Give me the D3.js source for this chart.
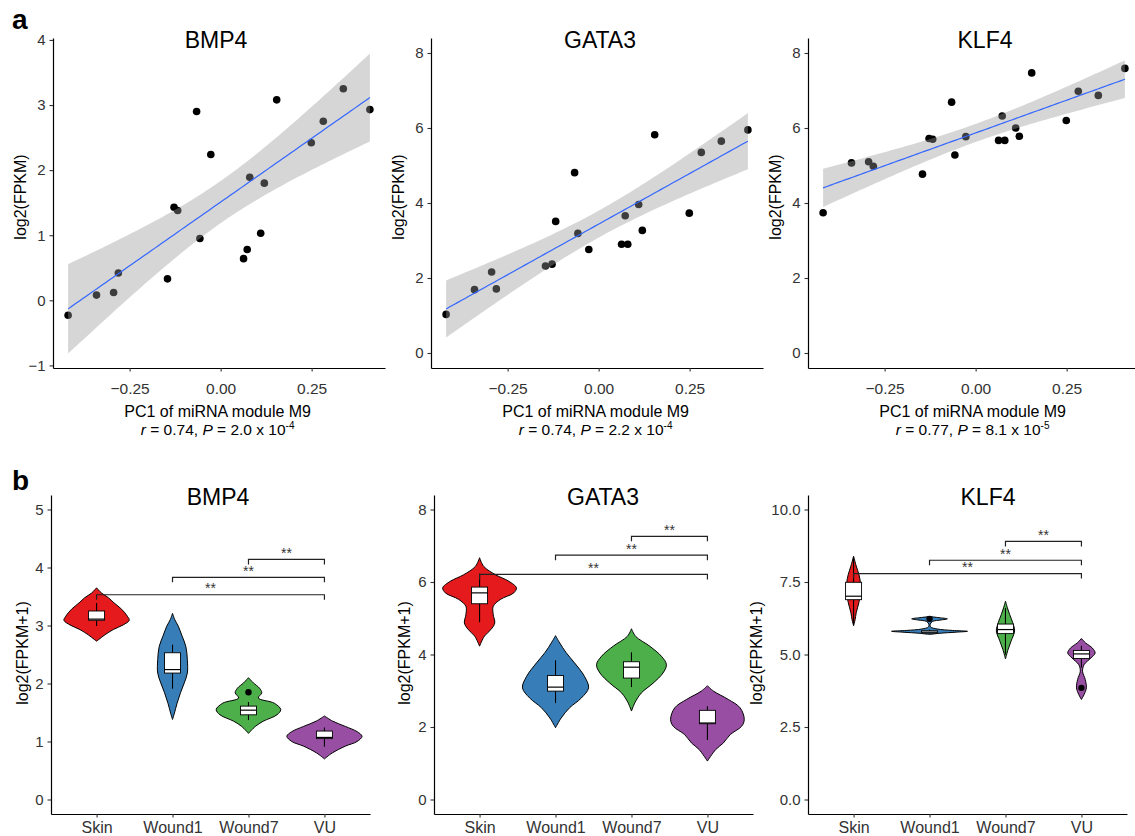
<!DOCTYPE html>
<html>
<head>
<meta charset="utf-8">
<script src="https://cdn.jsdelivr.net/npm/d3@7"></script>
<style>
  body { margin: 0; background: #fff; }
  svg { font-family: "Liberation Sans", Arial, sans-serif; }
</style>
</head>
<body>
<svg id="fig" width="1135" height="836"></svg>
<script>
const svg = d3.select("#fig");

// ---- panel a: expression vs PC1 of miRNA module M9 ----
const genes = ["BMP4", "GATA3", "KLF4"];
const pc1 = [-0.419, -0.341, -0.294, -0.281, -0.146, -0.128, -0.118, -0.066, -0.057, -0.027,
             0.063, 0.073, 0.080, 0.110, 0.120, 0.154, 0.249, 0.282, 0.337, 0.410];
const bmp4Fpkm = [-0.23, 0.08, 0.12, 0.42, 0.33, 1.43, 1.38, 2.90, 0.95, 2.24,
                  0.64, 0.78, 1.89, 1.03, 1.80, 3.08, 2.42, 2.75, 3.25, 2.93];
const gata3Fpkm = [1.03, 1.69, 2.16, 1.71, 2.32, 2.37, 3.51, 4.81, 3.19, 2.76,
                   2.90, 3.66, 2.90, 3.96, 3.27, 5.82, 3.73, 5.35, 5.65, 5.95];
const klf4Fpkm = [3.74, 5.07, 5.10, 4.98, 4.77, 5.72, 5.70, 6.69, 5.28, 5.77,
                  5.67, 6.32, 5.67, 6.00, 5.78, 7.47, 6.20, 6.98, 6.87, 7.59];
const corrR = ["0.74", "0.74", "0.77"];
const corrP = ["2.0", "2.2", "8.1"];
const corrExp = ["-4", "-4", "-5"];
const scatterYDomains = [[-1.04, 4.03], [-0.4, 8.4], [-0.4, 8.4]];
const scatterYTicks = [[-1, 0, 1, 2, 3, 4], [0, 2, 4, 6, 8], [0, 2, 4, 6, 8]];
const pcDomain = [-0.4605, 0.4515];
const pcTicks = [-0.25, 0, 0.25];

// ---- panel b: violins by group ----
const groups = ["Skin", "Wound1", "Wound7", "VU"];
const groupColors = ["#E41A1C", "#377EB8", "#4DAF4A", "#984EA3"];
// violin outlines: [log2(FPKM+1), relative density]
const bmp4Density = [
  [[2.73,0],[2.76,0.06],[2.84,0.22],[2.93,0.44],[3.01,0.70],[3.09,0.86],[3.16,0.81],[3.28,0.66],[3.39,0.46],[3.48,0.31],[3.56,0.13],[3.65,0]],
  [[1.38,0],[1.49,0.05],[1.66,0.12],[1.84,0.21],[2.01,0.31],[2.18,0.39],[2.41,0.39],[2.64,0.35],[2.82,0.25],[2.99,0.15],[3.10,0.06],[3.21,0]],
  [[1.14,0],[1.26,0.18],[1.35,0.39],[1.46,0.75],[1.55,0.85],[1.66,0.68],[1.75,0.26],[1.84,0.35],[1.92,0.29],[2.01,0.13],[2.10,0]],
  [[0.70,0],[0.80,0.20],[0.92,0.55],[1.00,0.86],[1.09,0.99],[1.17,0.86],[1.26,0.55],[1.35,0.22],[1.44,0]]
];
const gata3Density = [
  [[4.23,0],[4.51,0.13],[4.69,0.30],[4.87,0.40],[5.10,0.36],[5.33,0.36],[5.52,0.55],[5.70,0.90],[5.84,0.97],[6.02,0.77],[6.20,0.42],[6.43,0.11],[6.67,0]],
  [[1.98,0],[2.25,0.15],[2.53,0.37],[2.80,0.68],[3.08,0.87],[3.40,0.76],[3.77,0.50],[4.05,0.28],[4.32,0.11],[4.52,0]],
  [[2.44,0],[2.67,0.09],[2.94,0.26],[3.21,0.57],[3.49,0.83],[3.72,0.92],[3.95,0.79],[4.23,0.48],[4.50,0.11],[4.71,0]],
  [[1.06,0],[1.38,0.22],[1.56,0.42],[1.79,0.60],[2.02,0.90],[2.21,0.97],[2.53,0.86],[2.76,0.55],[2.99,0.16],[3.14,0]]
];
const klf4Density = [
  [[6.00,0],[6.20,0.04],[6.44,0.07],[6.79,0.14],[7.13,0.18],[7.48,0.18],[7.76,0.14],[8.05,0.07],[8.39,0]],
  [[5.69,0],[5.73,0.25],[5.77,0.70],[5.80,1.0],[5.83,0.6],[5.88,0.2],[5.95,0.03],[6.05,0.02],[6.14,0.08],[6.19,0.3],[6.23,0.47],[6.27,0.25],[6.31,0]],
  [[4.85,0],[5.18,0.07],[5.47,0.15],[5.81,0.24],[6.10,0.19],[6.38,0.11],[6.61,0.05],[6.84,0]],
  [[3.45,0],[3.62,0.07],[3.85,0.13],[4.14,0.10],[4.42,0.03],[4.65,0.07],[4.88,0.25],[5.05,0.36],[5.22,0.29],[5.40,0.11],[5.55,0]]
];
// box stats: [lower whisker, q1, median, q3, upper whisker]
const bmp4Box = [[2.99, 3.09, 3.11, 3.25, 3.39], [1.91, 2.18, 2.24, 2.53, 2.67], [1.37, 1.46, 1.54, 1.61, 1.68], [0.91, 1.05, 1.07, 1.18, 1.24]];
const gata3Box = [[4.89, 5.40, 5.70, 5.86, 6.23], [2.66, 2.99, 3.10, 3.42, 3.84], [3.10, 3.35, 3.65, 3.80, 4.06], [1.64, 2.09, 2.11, 2.46, 2.57]];
const klf4Box = [[6.00, 6.89, 7.01, 7.49, 8.35], [5.72, 5.74, 5.77, 5.82, 5.86], [5.00, 5.72, 5.86, 6.05, 6.60], [4.55, 4.86, 5.02, 5.14, 5.30]];
const bmp4Outliers = [[], [], [1.85], []];
const gata3Outliers = [[], [], [], []];
const klf4Outliers = [[], [6.23], [], [3.85]];
const comparisons = [["Skin", "VU"], ["Wound1", "VU"], ["Wound7", "VU"]];
const sigLabels = ["**", "**", "**"];
const bmp4BracketY = [3.53, 3.83, 4.14];
const gata3BracketY = [6.21, 6.74, 7.26];
const klf4BracketY = [7.79, 8.25, 8.90];
const violinYDomains = [[-0.25, 5.25], [-0.4, 8.4], [-0.5, 10.5]];
const violinYTicks = [[0, 1, 2, 3, 4, 5], [0, 2, 4, 6, 8], [0, 2.5, 5, 7.5, 10]];

const scatterY = [bmp4Fpkm, gata3Fpkm, klf4Fpkm];
const densities = [bmp4Density, gata3Density, klf4Density];
const boxes = [bmp4Box, gata3Box, klf4Box];
const outliers = [bmp4Outliers, gata3Outliers, klf4Outliers];
const bracketYs = [bmp4BracketY, gata3BracketY, klf4BracketY];

// layout
const scatterLeft = [53, 431, 808];
const scatterTitleX = [216, 600, 985];
const scatterTop = 38, scatterBottom = 368, scatterWidth = 332;
const violinLeft = [51, 434, 808];
const violinTitleX = [218, 603, 988];
const violinYLabelOff = [23, 24, 46];
const violinTop = 495, violinBottom = 814, violinWidth = 319;

function styleAxis(g, size) {
    g.select(".domain").attr("stroke", "#000").attr("stroke-width", 1.2);
    g.selectAll(".tick line").attr("stroke", "#333").attr("stroke-width", 1.1);
    g.selectAll(".tick text").attr("fill", "#333").style("font-size", size + "px");
}

// linear fit with 95% confidence band (like geom_smooth(method = "lm"))
function linearFit(xs, ys) {
    const n = xs.length;
    const mx = d3.mean(xs), my = d3.mean(ys);
    const sxx = d3.sum(xs, x => (x - mx) ** 2);
    const sxy = d3.sum(xs, (x, i) => (x - mx) * (ys[i] - my));
    const b = sxy / sxx, a = my - b * mx;
    const sse = d3.sum(xs, (x, i) => (ys[i] - a - b * x) ** 2);
    const s = Math.sqrt(sse / (n - 2));
    const t = 2.100922; // t(0.975, 18)
    const [lo, hi] = d3.extent(xs);
    return d3.range(81).map(k => {
        const x = lo + (hi - lo) * k / 80;
        const fit = a + b * x;
        const se = s * Math.sqrt(1 / n + (x - mx) ** 2 / sxx);
        return {x, fit, lower: fit - t * se, upper: fit + t * se};
    });
}

svg.append("text").attr("x", 12).attr("y", 29)
    .style("font-size", "28px").style("font-weight", "bold").text("a");
svg.append("text").attr("x", 12).attr("y", 490)
    .style("font-size", "28px").style("font-weight", "bold").text("b");

// ---- scatter panels ----
genes.forEach((gene, gi) => {
    const x0 = scatterLeft[gi];
    const x = d3.scaleLinear().domain(pcDomain).range([x0, x0 + scatterWidth]);
    const y = d3.scaleLinear().domain(scatterYDomains[gi]).range([scatterBottom, scatterTop]);
    const g = svg.append("g");
    const ys = scatterY[gi];

    g.append("g").selectAll("circle")
        .data(pc1)
        .enter().append("circle")
        .attr("cx", d => x(d))
        .attr("cy", (d, i) => y(ys[i]))
        .attr("r", 3.8)
        .attr("fill", "#000");

    const band = linearFit(pc1, ys);
    g.append("path")
        .datum(band)
        .attr("d", d3.area().x(d => x(d.x)).y0(d => y(d.lower)).y1(d => y(d.upper)))
        .attr("fill", "#999999")
        .attr("fill-opacity", 0.4);
    g.append("path")
        .datum(band)
        .attr("d", d3.line().x(d => x(d.x)).y(d => y(d.fit)))
        .attr("fill", "none")
        .attr("stroke", "#3366FF")
        .attr("stroke-width", 1.2);

    const ay = g.append("g").attr("transform", `translate(${x0},0)`)
        .call(d3.axisLeft(y).tickValues(scatterYTicks[gi]).tickFormat(d3.format("d"))
            .tickSize(3.5).tickSizeOuter(0).tickPadding(4));
    styleAxis(ay, 15);
    const ax = g.append("g").attr("transform", `translate(0,${scatterBottom})`)
        .call(d3.axisBottom(x).tickValues(pcTicks).tickFormat(d3.format(".2f"))
            .tickSize(3.5).tickSizeOuter(0).tickPadding(11));
    styleAxis(ax, 15.5);

    g.append("text").attr("x", scatterTitleX[gi]).attr("y", 48)
        .attr("text-anchor", "middle").style("font-size", "23px").text(gene);
    g.append("text")
        .attr("transform", `translate(${x0 - 27},197) rotate(-90)`)
        .attr("text-anchor", "middle").style("font-size", "16px").text("log2(FPKM)");
    const cx = x(0) - 3;
    g.append("text").attr("x", cx).attr("y", 417)
        .attr("text-anchor", "middle").style("font-size", "16px")
        .text("PC1 of miRNA module M9");
    const note = g.append("text").attr("x", cx).attr("y", 435)
        .attr("text-anchor", "middle").style("font-size", "15.5px");
    note.append("tspan").style("font-style", "italic").text("r");
    note.append("tspan").text(` = ${corrR[gi]}, `);
    note.append("tspan").style("font-style", "italic").text("P");
    note.append("tspan").text(` = ${corrP[gi]} x 10`);
    note.append("tspan").attr("dy", -6.5).style("font-size", "10px").text(corrExp[gi]);
});

// ---- violin panels ----
genes.forEach((gene, gi) => {
    const x0 = violinLeft[gi];
    const x = d3.scalePoint().domain(groups).range([x0, x0 + violinWidth]).padding(0.6);
    const y = d3.scaleLinear().domain(violinYDomains[gi]).range([violinBottom, violinTop]);
    const w = d3.scaleLinear().domain([0, 1]).range([0, x.step() / 2]);
    const g = svg.append("g");

    groups.forEach((grp, k) => {
        const cx = x(grp);
        g.append("path")
            .datum(densities[gi][k])
            .attr("d", d3.area()
                .curve(d3.curveCatmullRom.alpha(0.5))
                .y(d => y(d[0]))
                .x0(d => cx - w(d[1]))
                .x1(d => cx + w(d[1])))
            .attr("fill", groupColors[k])
            .attr("stroke", "#000")
            .attr("stroke-width", 1);

        const [lo, q1, med, q3, hi] = boxes[gi][k];
        const bw = 16;
        g.append("line").attr("x1", cx).attr("x2", cx).attr("y1", y(q3)).attr("y2", y(hi))
            .attr("stroke", "#000").attr("stroke-width", 1.1);
        g.append("line").attr("x1", cx).attr("x2", cx).attr("y1", y(q1)).attr("y2", y(lo))
            .attr("stroke", "#000").attr("stroke-width", 1.1);
        g.append("rect").attr("x", cx - bw / 2).attr("width", bw)
            .attr("y", y(q3)).attr("height", y(q1) - y(q3))
            .attr("fill", "#fff").attr("stroke", "#000").attr("stroke-width", 0.9);
        g.append("line").attr("x1", cx - bw / 2).attr("x2", cx + bw / 2)
            .attr("y1", y(med)).attr("y2", y(med))
            .attr("stroke", "#000").attr("stroke-width", 1.2);
        g.selectAll(null).data(outliers[gi][k]).enter().append("circle")
            .attr("cx", cx).attr("cy", d => y(d)).attr("r", 3.2).attr("fill", "#000");
    });

    comparisons.forEach(([a, b], k) => {
        const yy = y(bracketYs[gi][k]);
        const xa = x(a), xb = x(b);
        g.append("path")
            .attr("d", `M${xa},${yy + 5}V${yy}H${xb}V${yy + 5}`)
            .attr("fill", "none").attr("stroke", "#222").attr("stroke-width", 1.2);
        g.append("text").attr("x", (xa + xb) / 2).attr("y", yy - 1.5)
            .attr("text-anchor", "middle").attr("fill", "#333")
            .style("font-size", "14px").text(sigLabels[k]);
    });

    const fmt = gi === 2 ? d3.format(".1f") : d3.format("d");
    const ay = g.append("g").attr("transform", `translate(${x0},0)`)
        .call(d3.axisLeft(y).tickValues(violinYTicks[gi]).tickFormat(fmt)
            .tickSize(3.5).tickSizeOuter(0).tickPadding(4));
    styleAxis(ay, 15);
    const ax = g.append("g").attr("transform", `translate(0,${violinBottom})`)
        .call(d3.axisBottom(x).tickSize(3.5).tickSizeOuter(0).tickPadding(4));
    styleAxis(ax, 16);

    g.append("text").attr("x", violinTitleX[gi]).attr("y", 505)
        .attr("text-anchor", "middle").style("font-size", "23px").text(gene);
    g.append("text")
        .attr("transform", `translate(${x0 - violinYLabelOff[gi]},653) rotate(-90)`)
        .attr("text-anchor", "middle").style("font-size", "16px").text("log2(FPKM+1)");
});
</script>
</body>
</html>
